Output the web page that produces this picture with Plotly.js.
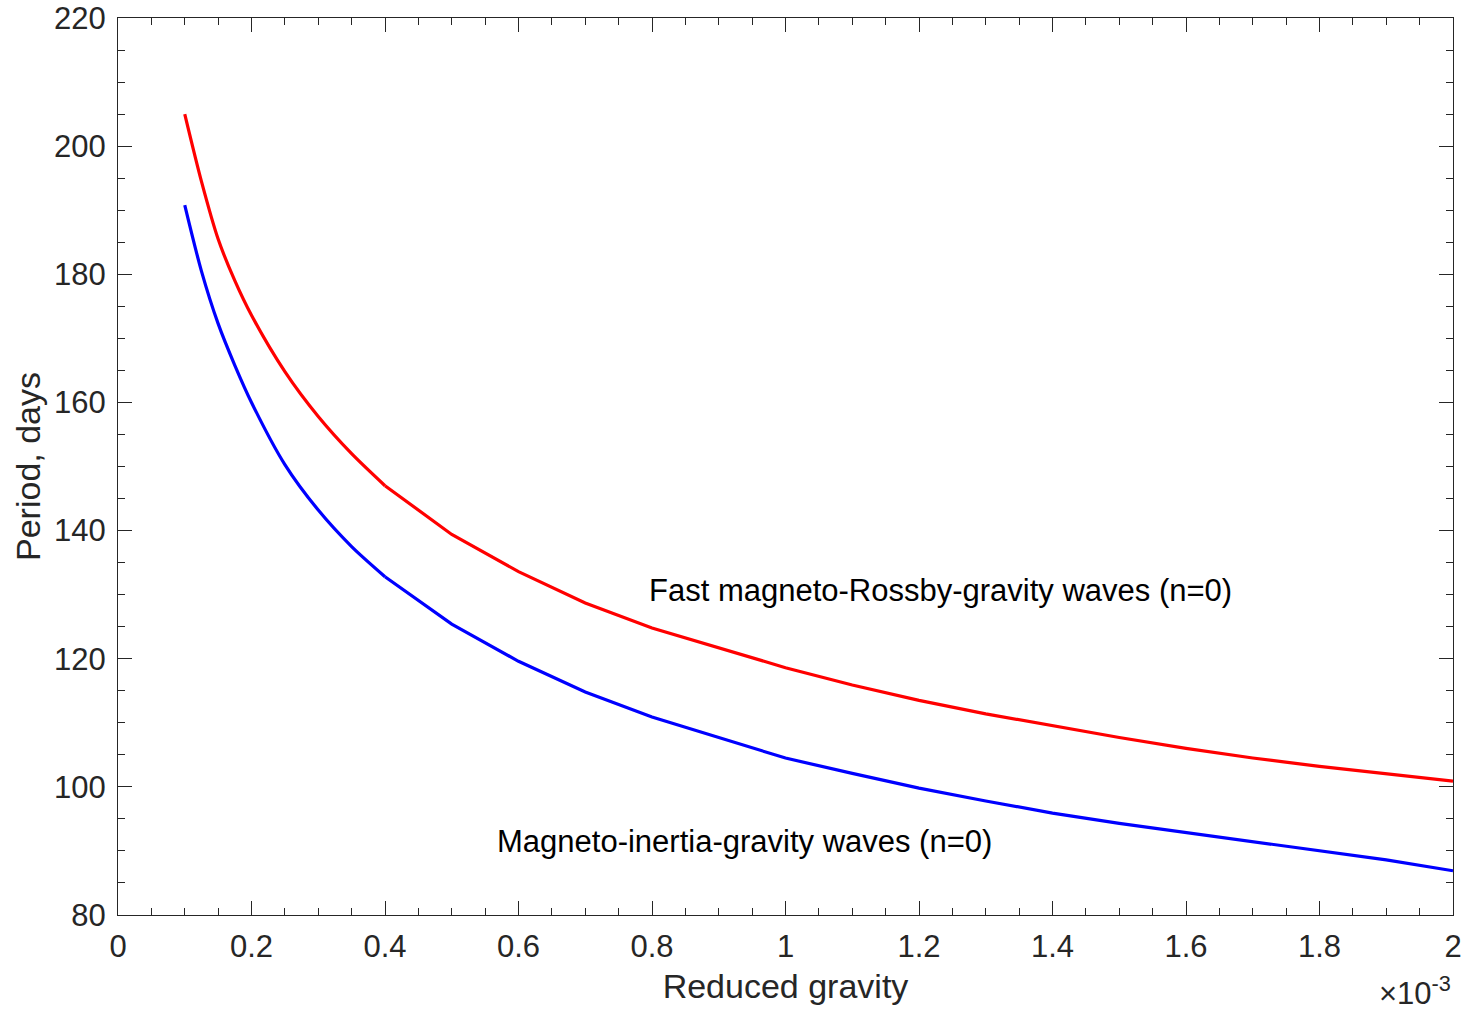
<!DOCTYPE html>
<html>
<head>
<meta charset="utf-8">
<script src="https://cdn.plot.ly/plotly-3.0.1.min.js"></script>
<style>html,body{margin:0;padding:0;background:#fff;}#chart{width:1464px;height:1010px;}</style>
</head>
<body>
<div id="chart"></div>
<script>
// Reduced gravity (x 10^-3)
const gravity = [0.1, 0.125, 0.15, 0.175, 0.2, 0.25, 0.3, 0.35, 0.4, 0.5, 0.6, 0.7, 0.8, 1.0, 1.1, 1.2, 1.3, 1.4, 1.5, 1.6, 1.7, 1.8, 1.9, 2.0];
// Fast magneto-Rossby-gravity waves (n=0), period in days
const fastMRG = [205.0, 194.5, 185.5, 179.0, 173.6, 164.8, 157.8, 152.0, 147.0, 139.4, 133.6, 128.7, 124.8, 118.6, 115.9, 113.5, 111.4, 109.5, 107.7, 106.0, 104.5, 103.2, 102.0, 100.9];
// Magneto-inertia-gravity waves (n=0), period in days
const magIG = [190.8, 180.5, 172.3, 165.8, 160.0, 150.3, 143.2, 137.5, 132.8, 125.4, 119.6, 114.8, 110.9, 104.5, 102.1, 99.8, 97.8, 95.9, 94.3, 92.9, 91.5, 90.1, 88.6, 86.9];

const xTicks = [0, 0.2, 0.4, 0.6, 0.8, 1, 1.2, 1.4, 1.6, 1.8, 2];
const xTickText = ['0', '0.2', '0.4', '0.6', '0.8', '1', '1.2', '1.4', '1.6', '1.8', '2'];
const yTicks = [80, 100, 120, 140, 160, 180, 200, 220];

const fontFam = '"Liberation Sans", Arial, Helvetica, sans-serif';
const axColor = '#262626';

// dense (smooth) part up to 0.4, coarse part from 0.4 on
const split = gravity.indexOf(0.4);
function seg(arr, smooth) { return smooth ? arr.slice(0, split + 1) : arr.slice(split); }

const traces = [];
[[fastMRG, '#ff0000'], [magIG, '#0000ff']].forEach(([vals, col]) => {
  traces.push({x: seg(gravity, true), y: seg(vals, true), type: 'scatter', mode: 'lines',
    line: {color: col, width: 3.2, shape: 'spline', smoothing: 0.8}});
  traces.push({x: seg(gravity, false), y: seg(vals, false), type: 'scatter', mode: 'lines',
    line: {color: col, width: 3.2}});
});

const axisCommon = {
  showline: true, linecolor: axColor, linewidth: 1, mirror: 'allticks',
  ticks: 'inside', ticklen: 14, tickwidth: 1, tickcolor: axColor,
  showgrid: false, zeroline: false,
  tickfont: {family: fontFam, size: 31, color: axColor},
};

const layout = {
  width: 1464, height: 1010,
  margin: {l: 118, r: 11, t: 18, b: 95},
  paper_bgcolor: '#fff', plot_bgcolor: '#fff',
  showlegend: false,
  font: {family: fontFam, color: axColor},
  xaxis: Object.assign({}, axisCommon, {
    range: [0, 2], tickmode: 'array', tickvals: xTicks, ticktext: xTickText,
    ticklabelstandoff: 4,
    minor: {ticks: 'inside', dtick: 0.05, ticklen: 7, tickcolor: axColor, tickwidth: 1, showgrid: false},
    title: {text: 'Reduced gravity', font: {family: fontFam, size: 34, color: axColor}, standoff: 10}
  }),
  yaxis: Object.assign({}, axisCommon, {
    range: [80, 220], tickmode: 'array', tickvals: yTicks,
    ticklabelstandoff: 5,
    minor: {ticks: 'inside', dtick: 5, ticklen: 7, tickcolor: axColor, tickwidth: 1, showgrid: false},
    title: {text: 'Period, days', font: {family: fontFam, size: 34, color: axColor}, standoff: 3}
  }),
  annotations: [
    {x: 0.7925, y: 130.6, xref: 'x', yref: 'y', xanchor: 'left', yanchor: 'middle', showarrow: false,
     text: 'Fast magneto-Rossby-gravity waves (n=0)', font: {family: fontFam, size: 31, color: '#000'}},
    {x: 0.565, y: 91.55, xref: 'x', yref: 'y', xanchor: 'left', yanchor: 'middle', showarrow: false,
     text: 'Magneto-inertia-gravity waves (n=0)', font: {family: fontFam, size: 31, color: '#000'}},
    {x: 1, y: -0.06, xref: 'paper', yref: 'paper', xanchor: 'right', yanchor: 'top', showarrow: false,
     text: '×10<sup>-3</sup>', font: {family: fontFam, size: 31, color: axColor}}
  ]
};

Plotly.newPlot('chart', traces, layout, {displayModeBar: false, staticPlot: true});
</script>
</body>
</html>
